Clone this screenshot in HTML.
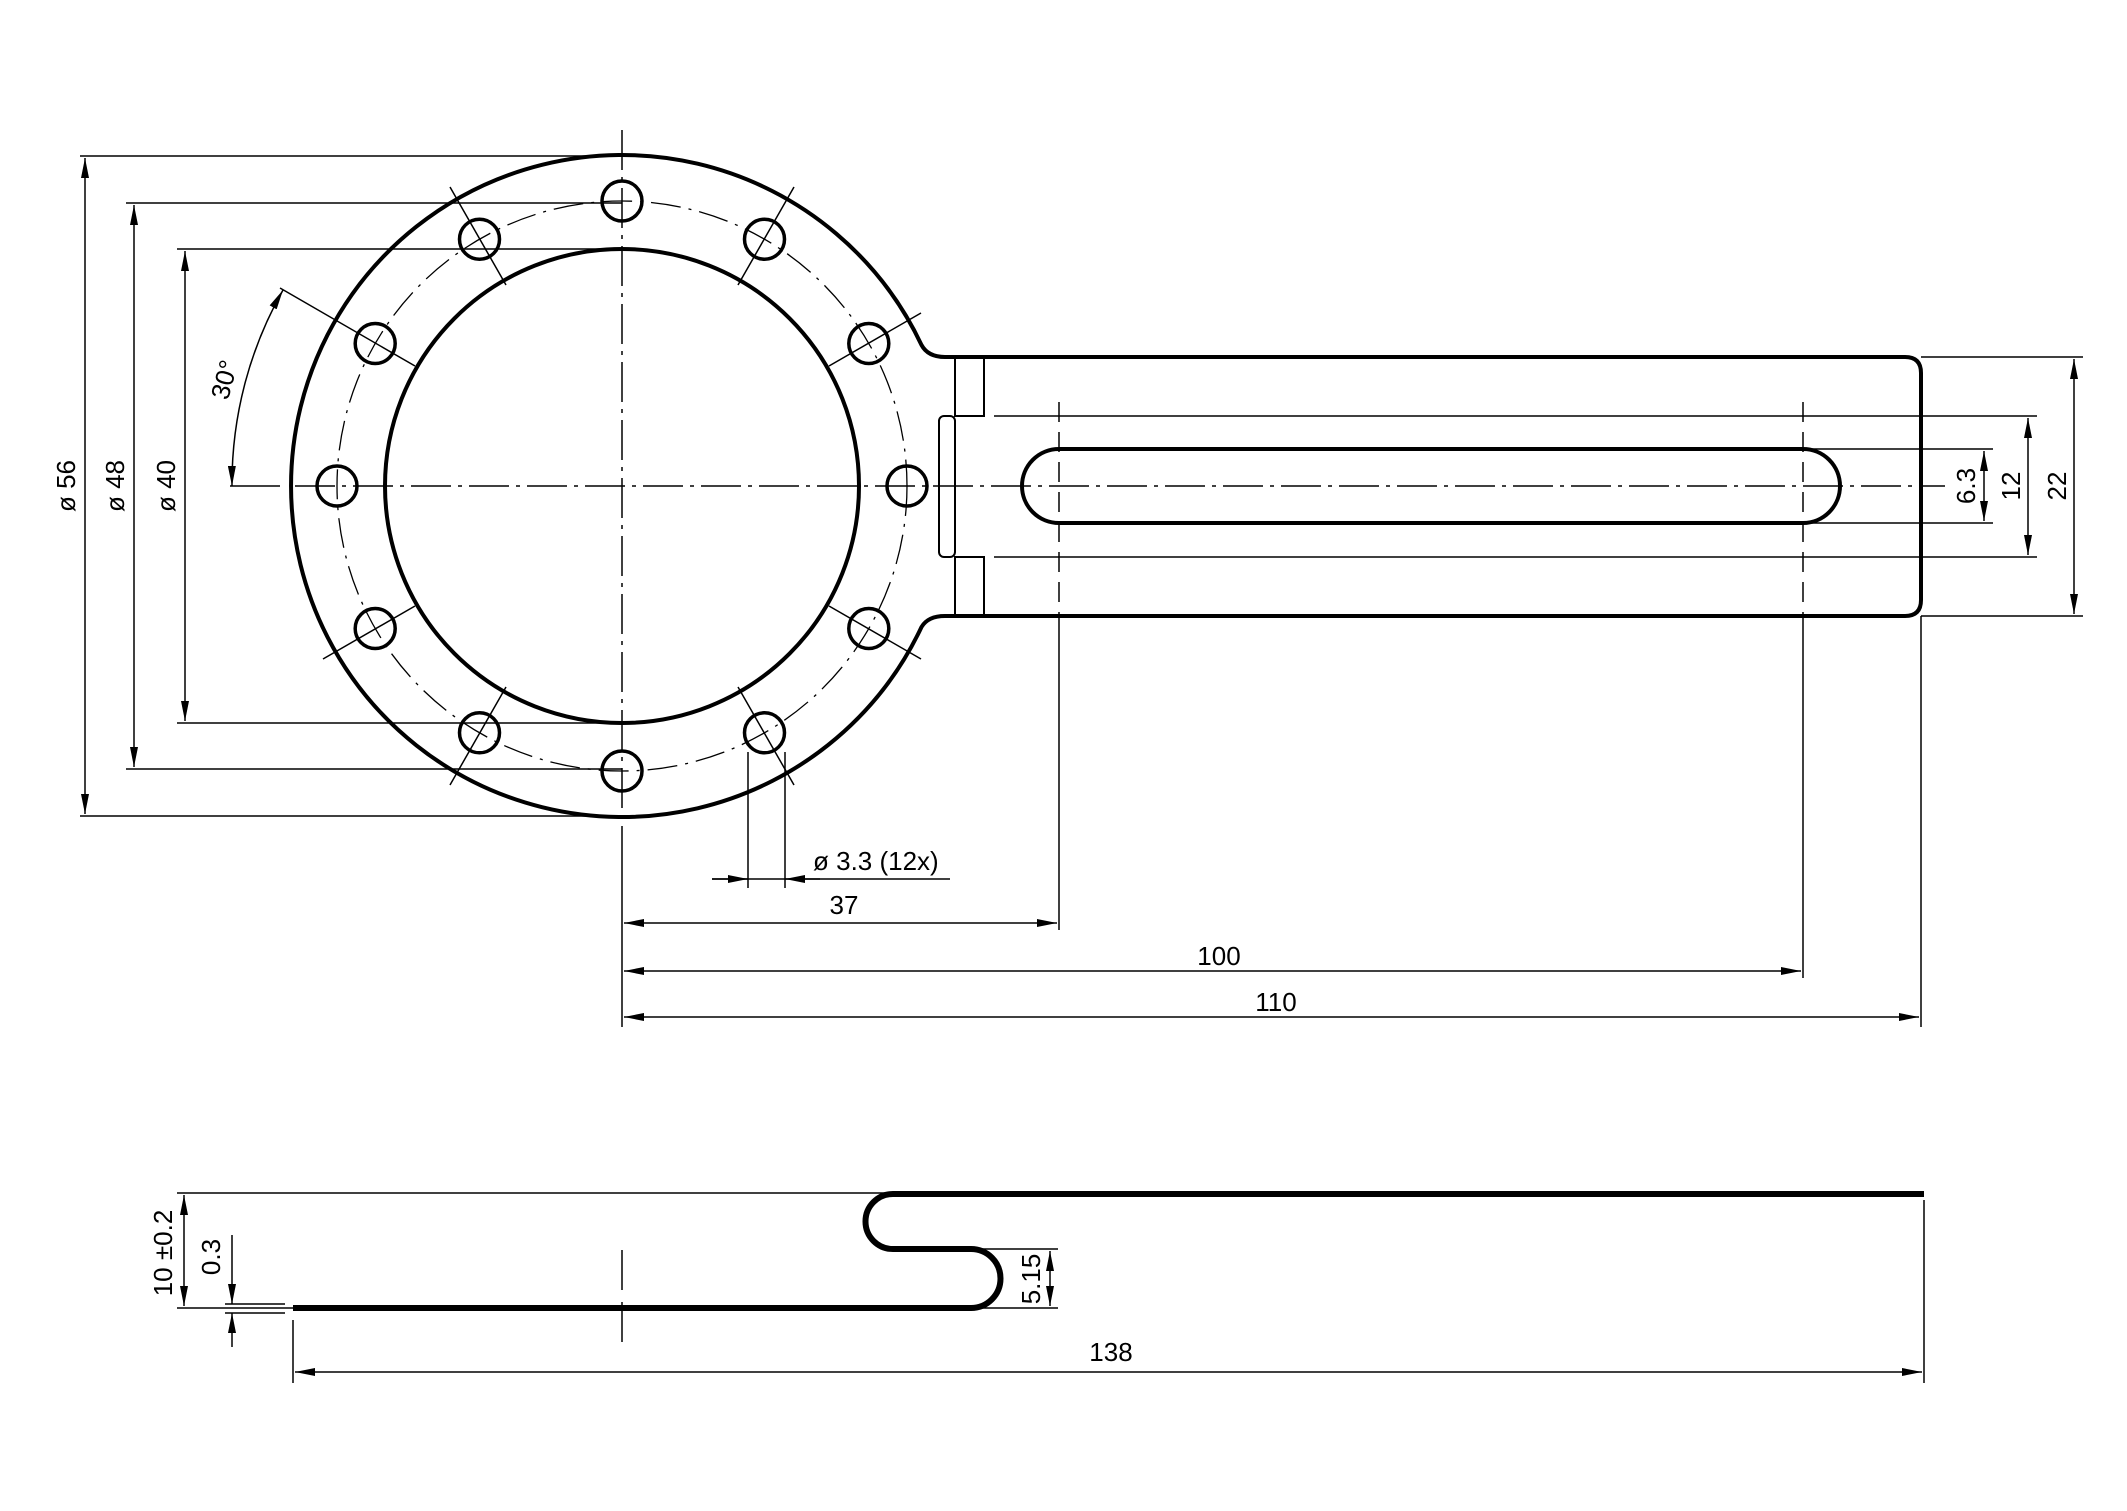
<!DOCTYPE html>
<html><head><meta charset="utf-8"><style>
html,body{margin:0;padding:0;background:#fff}
svg{display:block}
text{font-family:"Liberation Sans",sans-serif;font-size:26px;fill:#000}
</style></head><body>
<svg width="2127" height="1511" viewBox="0 0 2127 1511" xmlns="http://www.w3.org/2000/svg">
<defs>
<marker id="a" viewBox="0 0 20 8" refX="20" refY="4" markerWidth="20" markerHeight="8" markerUnits="userSpaceOnUse" orient="auto-start-reverse"><path d="M0,0 L20,4 L0,8 Z" fill="#000"/></marker>
</defs>
<g fill="none" stroke="#000">
<path d="M945 357 Q928 357 921.5 345 A331 331 0 1 0 921.5 627 Q928 616 945 616 L1905 616 Q1921 616 1921 600 L1921 373 Q1921 357 1905 357 Z" stroke-width="4"/>
<circle cx="622" cy="486" r="237" stroke-width="4"/>
<path d="M1059 449 L1803 449 A37 37 0 0 1 1803 523 L1059 523 A37 37 0 0 1 1059 449 Z" stroke-width="4"/>
<path d="M955 357 V416 H984 V357 M955 616 V557 H984 V616" stroke-width="2"/>
<rect x="939" y="416" width="16" height="141" rx="5" stroke-width="2"/>
<g stroke-width="1.5" stroke-dasharray="40,7,4,7">
<line x1="622" y1="130" x2="622" y2="850"/>
<line x1="295" y1="486" x2="1945" y2="486"/>
<circle cx="622" cy="486" r="285" stroke-width="1.3" stroke-dasharray="30,8,3,8"/>
</g>
<g stroke-width="1.5" stroke-dasharray="20,10">
<line x1="1059" y1="402" x2="1059" y2="620"/>
<line x1="1803" y1="402" x2="1803" y2="620"/>
</g>
<g stroke-width="3.5">
<circle cx="907" cy="486" r="20"/><circle cx="868.8" cy="343.5" r="20"/><circle cx="764.5" cy="239.2" r="20"/>
<circle cx="622" cy="201" r="20"/><circle cx="479.5" cy="239.2" r="20"/><circle cx="375.2" cy="343.5" r="20"/>
<circle cx="337" cy="486" r="20"/><circle cx="375.2" cy="628.5" r="20"/><circle cx="479.5" cy="732.8" r="20"/>
<circle cx="622" cy="771" r="20"/><circle cx="764.5" cy="732.8" r="20"/><circle cx="868.8" cy="628.5" r="20"/>
</g>
<g stroke-width="1.5">
<line x1="829" y1="366" x2="921" y2="313"/><line x1="738" y1="285" x2="794" y2="187"/>
<line x1="506" y1="285" x2="450" y2="187"/><line x1="415" y1="366" x2="280" y2="288"/>
<line x1="415" y1="606" x2="323" y2="659"/><line x1="506" y1="687" x2="450" y2="785"/>
<line x1="738" y1="687" x2="794" y2="785"/><line x1="829" y1="606" x2="921" y2="659"/>
<line x1="230" y1="486" x2="280" y2="486"/>
<path d="M232 486 A392 392 0 0 1 283 290" marker-start="url(#a)" marker-end="url(#a)"/>
<path d="M80 156 H622 M80 816 H622 M126 203 H622 M126 769 H622 M177 249 H622 M177 723 H622"/>
<line x1="85" y1="158" x2="85" y2="814" marker-start="url(#a)" marker-end="url(#a)"/>
<line x1="134" y1="205" x2="134" y2="767" marker-start="url(#a)" marker-end="url(#a)"/>
<line x1="185" y1="251" x2="185" y2="721" marker-start="url(#a)" marker-end="url(#a)"/>
<path d="M748 752 V888 M785 752 V888 M712 879 H950"/>
<line x1="712" y1="879" x2="748" y2="879" marker-end="url(#a)"/>
<line x1="820" y1="879" x2="785" y2="879" marker-end="url(#a)"/>
<path d="M622 850 V1027 M1059 620 V930 M1803 620 V978 M1921 616 V1027"/>
<line x1="624" y1="923" x2="1057" y2="923" marker-start="url(#a)" marker-end="url(#a)"/>
<line x1="624" y1="971" x2="1801" y2="971" marker-start="url(#a)" marker-end="url(#a)"/>
<line x1="624" y1="1017" x2="1919" y2="1017" marker-start="url(#a)" marker-end="url(#a)"/>
<path d="M994 416 H2037 M994 557 H2037 M1803 449 H1993 M1803 523 H1993 M1921 357 H2083 M1921 616 H2083"/>
<line x1="1984" y1="451" x2="1984" y2="521" marker-start="url(#a)" marker-end="url(#a)"/>
<line x1="2028" y1="418" x2="2028" y2="555" marker-start="url(#a)" marker-end="url(#a)"/>
<line x1="2074" y1="359" x2="2074" y2="614" marker-start="url(#a)" marker-end="url(#a)"/>
</g>
<g transform="translate(0,-5)">
<path d="M1924 1199 H893 A27.5 27.5 0 0 0 893 1254 H971 A29.5 29.5 0 0 1 971 1313 H293" stroke-width="6"/>
<g stroke-width="1.5">
<path d="M177 1198 H893 M177 1313 H293 M971 1254 H1058 M971 1313 H1058 M293 1325 V1388 M1924 1205 V1388 M225 1309 H285 M225 1318 H285"/>
<line x1="622" y1="1255" x2="622" y2="1355" stroke-dasharray="40,12"/>
<line x1="184" y1="1200" x2="184" y2="1311" marker-start="url(#a)" marker-end="url(#a)"/>
<line x1="232" y1="1240" x2="232" y2="1309" marker-end="url(#a)"/>
<line x1="232" y1="1352" x2="232" y2="1318" marker-end="url(#a)"/>
<line x1="1050" y1="1256" x2="1050" y2="1311" marker-start="url(#a)" marker-end="url(#a)"/>
<line x1="295" y1="1377" x2="1922" y2="1377" marker-start="url(#a)" marker-end="url(#a)"/>
</g>
</g>
</g>
<text transform="translate(75,486) rotate(-90)" text-anchor="middle">ø 56</text>
<text transform="translate(124,486) rotate(-90)" text-anchor="middle">ø 48</text>
<text transform="translate(175,486) rotate(-90)" text-anchor="middle">ø 40</text>
<text transform="translate(233,382) rotate(-75)" text-anchor="middle">30°</text>
<text x="813" y="870">ø 3.3 (12x)</text>
<text x="844" y="914" text-anchor="middle">37</text>
<text x="1219" y="965" text-anchor="middle">100</text>
<text x="1276" y="1011" text-anchor="middle">110</text>
<text transform="translate(1975,486) rotate(-90)" text-anchor="middle">6.3</text>
<text transform="translate(2020,486) rotate(-90)" text-anchor="middle">12</text>
<text transform="translate(2066,486) rotate(-90)" text-anchor="middle">22</text>
<text transform="translate(172,1253) rotate(-90)" text-anchor="middle">10 ±0.2</text>
<text transform="translate(220,1257) rotate(-90)" text-anchor="middle">0.3</text>
<text transform="translate(1040,1279) rotate(-90)" text-anchor="middle">5.15</text>
<text x="1111" y="1361" text-anchor="middle">138</text>
</svg>
</body></html>
